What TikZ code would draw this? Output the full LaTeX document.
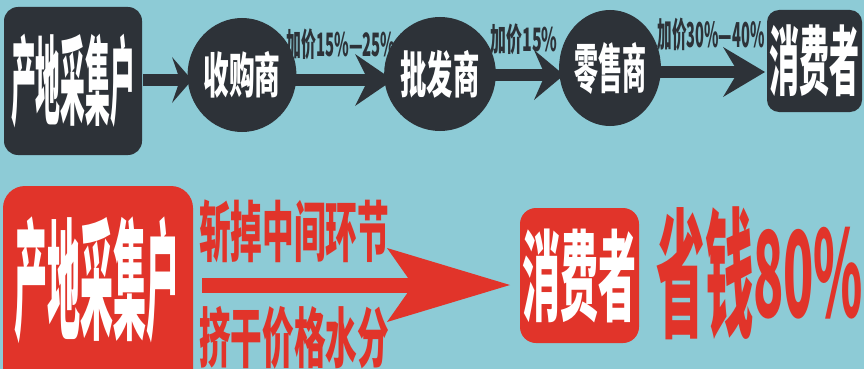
\documentclass[tikz,border=0pt]{standalone}
\usepackage{fontspec}
\usepackage{graphicx}
\usetikzlibrary{shapes.geometric}
\newfontfamily\cjk{Noto Sans CJK SC}
\definecolor{bg}{HTML}{8DCBD6}
\definecolor{dk}{HTML}{2D3238}
\definecolor{rd}{HTML}{E1342A}
\newcommand\fitt[3]{\resizebox*{#1pt}{#2pt}{\cjk\bfseries #3}}
% arrow: color, x0, xn (notch), xb (head back), xt (tip), c (center y), h (half shaft), H (half head)
\newcommand\bigarrow[8]{%
  \fill[#1] (#2,#6-#7) rectangle (#3,#6+#7);
  \fill[#1] (#4,#6-#8) -- (#5,#6) -- (#4,#6+#8) -- (#3,#6) -- cycle;}
\tikzset{
  dkbox/.style={fill=dk, rounded corners=14pt, inner sep=0pt, text=white},
  dkell/.style={fill=dk, ellipse, inner sep=0pt, text=white},
  rdbox/.style={fill=rd, rounded corners=16pt, inner sep=0pt, text=white},
  lab/.style={inner sep=0pt, text=dk},
  rdtxt/.style={inner sep=0pt, text=rd},
}
\begin{document}
\begin{tikzpicture}[x=1pt,y=-1pt]
\fill[bg] (0,0) rectangle (864,369);
\useasboundingbox (0,0) rectangle (864,369);
% top row
\node[dkbox, minimum width=138pt, minimum height=148pt] (src) at (73,81) {\fitt{124}{94}{产地采集户}};
\node[dkell, minimum width=90pt, minimum height=114pt] (buy) at (242,75) {\fitt{77}{47}{收购商}};
\node[dkell, minimum width=90pt, minimum height=114pt] (whole) at (440,74) {\fitt{79}{48}{批发商}};
\node[dkell, minimum width=89pt, minimum height=116pt] (retail) at (610,68) {\fitt{72}{52}{零售商}};
\node[dkbox, rounded corners=12pt, minimum width=95pt, minimum height=102pt] (cons) at (814.5,61) {\fitt{90}{72}{消费者}};
\bigarrow{dk}{143}{180}{172}{192}{80}{6}{23}
\bigarrow{dk}{292}{368}{355}{393}{80}{6}{26}
\bigarrow{dk}{489}{545}{534}{564}{75}{6}{25}
\bigarrow{dk}{660}{738}{723}{765}{72}{6}{25}
\node[lab] (l1) at (341,44) {\fitt{109}{31}{加价15\%—25\%}};
\node[lab] (l2) at (524,39) {\fitt{67}{31}{加价15\%}};
\node[lab] (l3) at (711,35) {\fitt{107}{33}{加价30\%—40\%}};
% bottom row
\node[rdbox, rounded corners=22pt, minimum width=190pt, minimum height=209pt] (src2) at (98,290.5) {};
\node[inner sep=0pt, text=white] (src2t) at (97,280) {\fitt{165}{127}{产地采集户}};
\node[rdtxt] (cut) at (294,231) {\fitt{190}{63}{斩掉中间环节}};
\node[rdtxt] (sq) at (294,338) {\fitt{190}{63}{挤干价格水分}};
\bigarrow{rd}{202}{413}{387}{510}{285}{7.5}{37}
\node[rdbox, minimum width=119pt, minimum height=135pt] (cons2) at (579.5,275.5) {\fitt{114}{94}{消费者}};
\node[rdtxt] (save) at (705,273) {\fitt{97}{133}{省钱}};
\node[rdtxt] (pct) at (808,273) {\fitt{110}{92}{80\%}};
\end{tikzpicture}
\end{document}
